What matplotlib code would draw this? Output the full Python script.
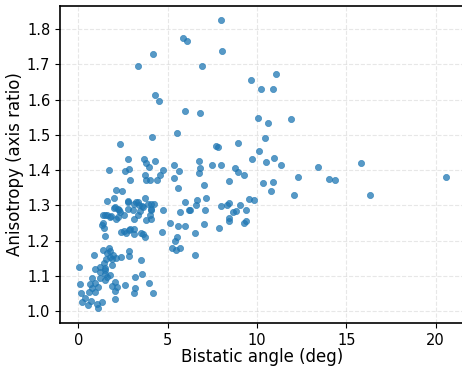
import numpy as np
import matplotlib
matplotlib.use("Agg")
import matplotlib.pyplot as plt

# bistatic angle (deg) / anisotropy
# upper and right part of the cloud
x_right = [7.97, 5.86, 6.09, 4.16, 8.05, 3.32, 6.93, 9.64, 11.07, 10.23, 10.91, 4.29, 4.50,
           5.96, 6.82, 10.07, 10.61, 11.91, 4.11, 5.51, 10.44, 2.32, 7.68, 7.84, 8.93, 9.73,
           10.14, 10.98, 10.53, 11.33, 6.76, 7.49, 7.97, 6.80, 6.78, 8.76, 8.93, 9.30, 12.31,
           13.39, 14.02, 14.36, 15.85, 20.6, 16.32, 7.02, 8.42, 10.35, 10.89, 10.78, 12.06,
           6.63, 6.59, 7.17, 6.27, 7.08, 7.96, 8.33, 8.42, 9.04, 9.56, 9.86, 8.68, 8.80, 9.39,
           8.42, 8.46, 9.26, 9.37, 7.02, 7.88, 6.55, 6.53]
y_right = [1.825, 1.774, 1.766, 1.731, 1.737, 1.696, 1.696, 1.656, 1.674, 1.631, 1.631, 1.614, 1.597,
           1.569, 1.563, 1.549, 1.535, 1.545, 1.493, 1.506, 1.492, 1.473, 1.469, 1.466, 1.477, 1.433,
           1.454, 1.435, 1.423, 1.416, 1.427, 1.416, 1.416, 1.405, 1.393, 1.407, 1.395, 1.386, 1.381,
           1.409, 1.376, 1.372, 1.419, 1.380, 1.329, 1.359, 1.368, 1.364, 1.366, 1.342, 1.329,
           1.315, 1.302, 1.321, 1.287, 1.286, 1.297, 1.300, 1.308, 1.300, 1.317, 1.314, 1.281, 1.285, 1.286,
           1.265, 1.255, 1.249, 1.256, 1.247, 1.235, 1.221, 1.160]

# middle part (3-6 deg)
x_mid = [2.75, 3.66, 3.77, 3.94, 4.29, 3.75, 3.79, 4.00, 4.39, 4.55, 4.71, 5.34, 5.62, 5.34, 5.58,
         3.72, 3.32, 3.57, 4.07, 4.26, 3.47, 4.07, 4.72, 5.68, 5.96, 6.18, 3.32, 4.00, 3.81, 4.07,
         3.10, 4.69, 5.12, 5.25, 5.47, 5.71, 5.43, 5.53, 5.58, 5.99, 3.53, 3.75, 3.14, 2.87, 3.53,
         3.16, 3.57, 3.94, 3.16, 3.10, 4.18, 2.86, 4.09, 3.60]
y_mid = [1.432, 1.431, 1.419, 1.408, 1.427, 1.386, 1.372, 1.372, 1.373, 1.386, 1.399, 1.415, 1.397, 1.379, 1.349,
         1.321, 1.310, 1.298, 1.304, 1.304, 1.285, 1.287, 1.287, 1.282, 1.310, 1.287, 1.272, 1.272, 1.258, 1.260,
         1.260, 1.225, 1.249, 1.180, 1.173, 1.180, 1.199, 1.211, 1.241, 1.241, 1.222, 1.211, 1.218, 1.232, 1.145,
         1.097, 1.104, 1.080, 1.064, 1.050, 1.050, 1.157, 1.291, 1.218]

# dense lower-left part (0-3 deg)
x_left = [1.70, 2.63, 2.82, 2.89, 2.13, 2.43, 1.59, 1.98, 2.75, 3.10, 1.98, 2.20, 2.30, 2.76, 3.06,
          1.36, 1.61, 1.76, 2.20, 1.83, 2.13, 1.33, 1.42, 1.47, 2.54, 2.82, 2.69, 3.14, 2.41,
          0.02, 0.86, 1.38, 1.70, 1.79, 1.61, 1.55, 1.89, 2.13, 2.41, 2.82, 1.89, 1.47, 1.19, 0.91,
          1.79, 1.47, 0.77, 1.23, 1.51, 0.07, 0.67, 0.95, 1.10, 0.77, 0.58, 0.91, 0.17, 0.35, 0.21,
          0.73, 0.52, 1.05, 1.08, 1.33, 2.07, 1.89, 2.17, 2.03, 2.63, 2.07,
          2.03, 2.78, 3.25, 3.38, 3.62, 3.88, 2.54, 2.35, 1.94, 1.76, 1.42, 1.51, 1.23, 1.61, 1.38, 1.51]
y_left = [1.400, 1.398, 1.403, 1.372, 1.344, 1.340, 1.312, 1.321, 1.312, 1.303, 1.293, 1.290, 1.287, 1.291, 1.287,
          1.272, 1.272, 1.268, 1.268, 1.270, 1.261, 1.244, 1.235, 1.213, 1.228, 1.230, 1.222, 1.233, 1.225,
          1.124, 1.159, 1.173, 1.180, 1.170, 1.165, 1.148, 1.149, 1.151, 1.154, 1.171, 1.130, 1.121, 1.124, 1.119,
          1.102, 1.105, 1.093, 1.094, 1.088, 1.076, 1.076, 1.079, 1.069, 1.064, 1.055, 1.055, 1.050, 1.036, 1.025,
          1.028, 1.017, 1.019, 1.009, 1.025, 1.083, 1.071, 1.069, 1.057, 1.074, 1.033,
          1.296, 1.310, 1.310, 1.301, 1.296, 1.303, 1.272, 1.280, 1.159, 1.152, 1.135, 1.116, 1.111, 1.097, 1.250, 1.272]

xticks = [0, 5, 10, 15, 20]
yticks = [1.0, 1.1, 1.2, 1.3, 1.4, 1.5, 1.6, 1.7, 1.8]

angle = np.array(x_right + x_mid + x_left)
aniso = np.array(y_right + y_mid + y_left)

fig = plt.figure(figsize=(4.62, 3.69), dpi=100)
# right spine falls just outside the canvas, as in the cropped original
ax = fig.add_axes([60/462, 46/369, 405/462, 317/369])

ax.scatter(angle, aniso, s=20, color='#1f77b4', alpha=0.75, linewidths=0.5)
ax.grid(True, linestyle='--', alpha=0.3)
ax.set_axisbelow(True)
ax.set_xlim(-1.03, 21.65)
ax.set_ylim(0.966, 1.866)
ax.set_xticks(xticks)
ax.set_yticks(yticks)

ax.set_xlabel('Bistatic angle (deg)', fontsize=12, labelpad=0)
ax.set_ylabel('Anisotropy (axis ratio)', fontsize=12, labelpad=2)
ax.tick_params(labelsize=10.5)
for s in ax.spines.values():
    s.set_linewidth(1.2)

fig.savefig('out.png', dpi=100)
